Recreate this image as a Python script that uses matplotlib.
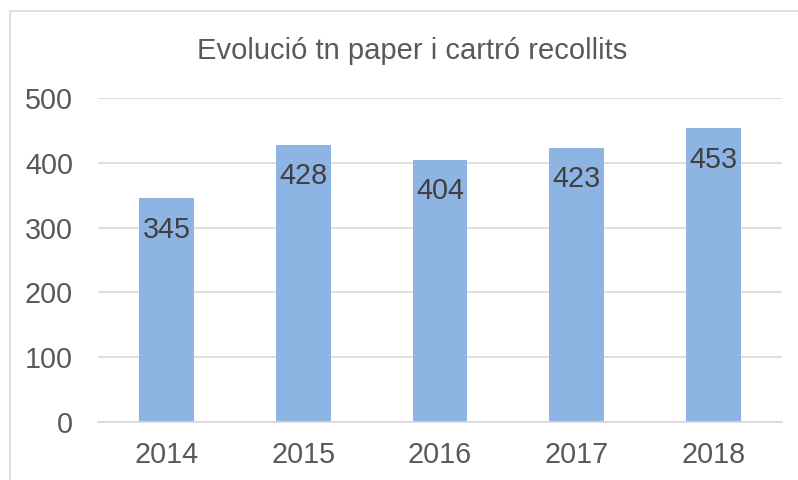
import matplotlib.pyplot as plt
from matplotlib.patches import Rectangle

years = ["2014", "2015", "2016", "2017", "2018"]
tonnes = [345, 428, 404, 423, 453]
yticks = [0, 100, 200, 300, 400, 500]

plt.rcParams["font.family"] = ["Liberation Sans", "DejaVu Sans"]

fig = plt.figure(figsize=(7.98, 4.8), dpi=100)
ax = fig.add_axes([98 / 798, 1 - 422 / 480, 684 / 798, 324 / 480])

bars = ax.bar(years, tonnes, width=0.40, color="#8EB4E3", zorder=2)
for rect, val in zip(bars, tonnes):
    ax.annotate(
        str(val),
        (rect.get_x() + rect.get_width() / 2, val),
        xytext=(0, -22.5),
        textcoords="offset points",
        ha="center",
        va="center",
        fontsize=20.7,
        color="#404040",
    )

ax.set_ylim(0, 500)
ax.set_xlim(-0.5, len(years) - 0.5)
ax.set_yticks(yticks)
ax.yaxis.grid(True, color="#D9D9D9", linewidth=1.2, zorder=0)
ax.tick_params(axis="both", length=0, labelsize=20.7, labelcolor="#595959")
ax.tick_params(axis="y", pad=18)
ax.tick_params(axis="x", pad=14)
for side in ["top", "right", "left"]:
    ax.spines[side].set_visible(False)
ax.spines["bottom"].set_color("#D9D9D9")
ax.spines["bottom"].set_linewidth(1.2)

fig.text(412 / 798, 1 - 51 / 480, "Evolució tn paper i cartró recollits",
         ha="center", va="center", fontsize=21, color="#595959")

fig.patches.append(Rectangle((10 / 798, -0.05), 1.0, 1 - 11 / 480 + 0.05,
                             transform=fig.transFigure, fill=False,
                             edgecolor="#D9D9D9", linewidth=1.2))

fig.savefig("out.png", dpi=100)
